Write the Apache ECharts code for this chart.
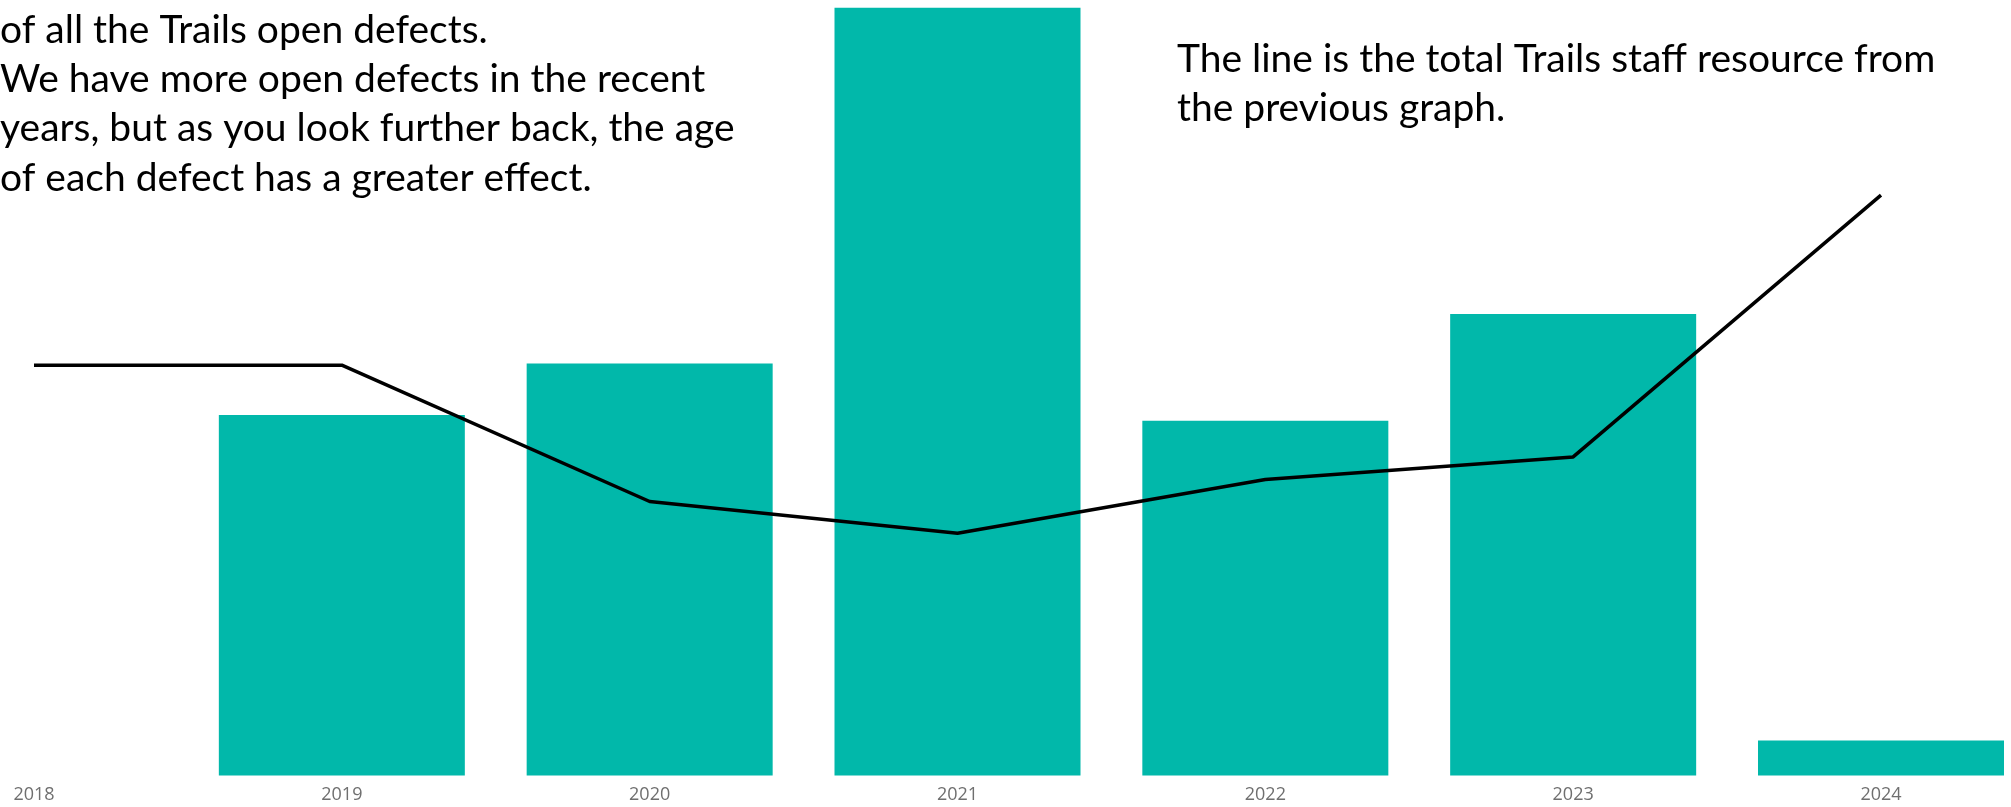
<!DOCTYPE html>
<html>
<head>
<meta charset="utf-8">
<script src="https://cdn.jsdelivr.net/npm/echarts@6/dist/echarts.min.js"></script>
<style>
html,body{margin:0;padding:0;background:#fff;}
#chart{width:2011px;height:807px;}
</style>
</head>
<body>
<div id="chart"></div>
<script>
// Data
const years = ['2018', '2019', '2020', '2021', '2022', '2023', '2024'];
const defectAge = [0, 372, 425, 792, 366, 476, 36];      // bars: combined age of open defects
const staffResource = [6.35, 6.35, 4.24, 3.75, 4.58, 4.93, 8.98]; // line: total staff resource

const leftNote = [
  'of all the Trails open defects.',
  'We have more open defects in the recent',
  'years, but as you look further back, the age',
  'of each defect has a greater effect.'
];
const rightNote = [
  'The line is the total Trails staff resource from',
  'the previous graph.'
];

const FONT = 'Lato, "Open Sans", sans-serif';
const chart = echarts.init(document.getElementById('chart'));

const graphics = [];
leftNote.forEach((t, i) => {
  graphics.push({
    type: 'text', x: 0, y: 30.5 + i * 49.2, z: 100,
    style: { text: t, fill: '#000', font: '39px ' + FONT, verticalAlign: 'middle', textVerticalAlign: 'middle' }
  });
});
rightNote.forEach((t, i) => {
  graphics.push({
    type: 'text', x: 1177, y: 59 + i * 49.2, z: 100,
    style: { text: t, fill: '#000', font: '39px ' + FONT, verticalAlign: 'middle', textVerticalAlign: 'middle' }
  });
});

chart.setOption({
  animation: false,
  backgroundColor: '#ffffff',
  grid: { left: 34, right: 130, top: 0, bottom: 31.5, containLabel: false },
  xAxis: {
    type: 'category',
    data: years,
    boundaryGap: false,
    axisLine: { show: false },
    axisTick: { show: false },
    axisLabel: { color: '#6f6f6f', fontSize: 18, fontFamily: '"Open Sans", sans-serif', margin: 10 }
  },
  yAxis: [
    { type: 'value', min: 0, max: 800, show: false, splitLine: { show: false } },
    { type: 'value', min: 0, max: 12, show: false, splitLine: { show: false } }
  ],
  series: [
    {
      type: 'bar',
      data: defectAge,
      barWidth: 246,
      clip: false,
      itemStyle: { color: '#01B8AA' },
      yAxisIndex: 0,
      z: 2
    },
    {
      type: 'line',
      data: staffResource,
      yAxisIndex: 1,
      symbol: 'none',
      clip: false,
      lineStyle: { color: '#000000', width: 3.5 },
      z: 5
    }
  ],
  graphic: graphics
});
</script>
</body>
</html>
